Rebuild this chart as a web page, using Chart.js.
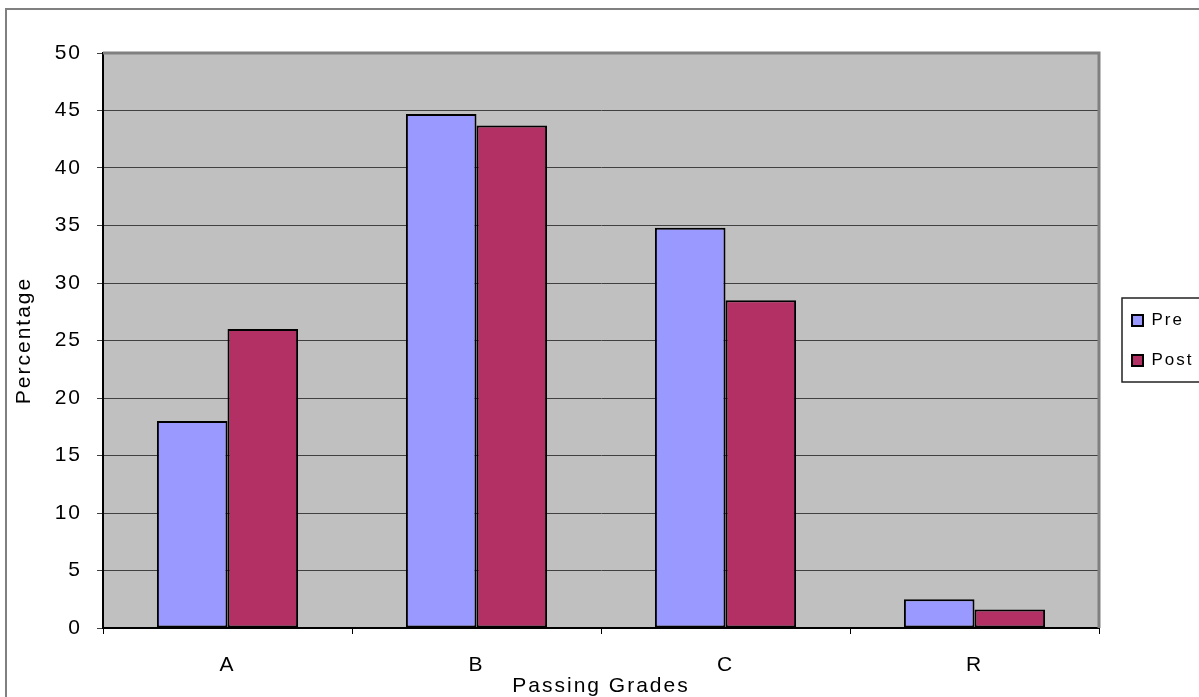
<!DOCTYPE html>
<html>
<head>
<meta charset="utf-8">
<script src="https://cdn.jsdelivr.net/npm/chart.js@4.4.1/dist/chart.umd.min.js"></script>
<style>
    body { margin: 0; background: #fff; }
    #wrap { width: 1199px; height: 697px; }
</style>
</head>
<body>
<div id="wrap"><canvas id="chart" width="1199" height="697"></canvas></div>
<script>
// Chart data
const categories = ['A', 'B', 'C', 'R'];
const preValues = [18, 44.7, 34.8, 2.5];
const postValues = [26, 43.7, 28.5, 1.6];
const yMax = 50;
const yStep = 5;

const fontFamily = '"Liberation Sans", Arial, sans-serif';

// Excel-like look: grey plot area, frames, spaced text
const excelLook = {
    id: 'excelLook',
    beforeLayout(chart) {
        chart.ctx.letterSpacing = '2px';
    },
    beforeDraw(chart) {
        const { ctx, chartArea: a } = chart;
        ctx.letterSpacing = '2px';
        ctx.save();
        ctx.fillStyle = '#c0c0c0';
        ctx.fillRect(a.left, a.top, a.right - a.left, a.bottom - a.top);
        ctx.restore();
    },
    afterDraw(chart) {
        const { ctx, chartArea: a, legend } = chart;
        ctx.save();
        ctx.strokeStyle = '#808080';
        ctx.lineWidth = 3;
        ctx.beginPath();
        ctx.moveTo(a.left, a.top);
        ctx.lineTo(a.right, a.top);
        ctx.lineTo(a.right, a.bottom);
        ctx.stroke();

        // outer chart frame (top and left only are visible)
        ctx.lineWidth = 2;
        ctx.beginPath();
        ctx.moveTo(6, chart.height);
        ctx.lineTo(6, 9);
        ctx.lineTo(chart.width, 9);
        ctx.stroke();

        // legend frame
        const boxes = legend.legendHitBoxes;
        if (boxes && boxes.length) {
            const first = boxes[0];
            const last = boxes[boxes.length - 1];
            const left = first.left - 10;
            const top = first.top - 14;
            const bottom = last.top + last.height + 13;
            ctx.strokeStyle = '#222';
            ctx.lineWidth = 1.5;
            ctx.strokeRect(left, top, chart.width + 10 - left, bottom - top);
        }
        ctx.restore();
    }
};

const ctx = document.getElementById('chart');

new Chart(ctx, {
    type: 'bar',
    data: {
        labels: categories,
        datasets: [
            {
                label: 'Pre',
                data: preValues,
                yAxisID: 'y',
                backgroundColor: '#9999ff',
                borderColor: '#000',
                borderWidth: 2,
                borderSkipped: false
            },
            {
                label: 'Post',
                data: postValues,
                yAxisID: 'y',
                backgroundColor: '#b23064',
                borderColor: '#000',
                borderWidth: 2,
                borderSkipped: false
            }
        ]
    },
    options: {
        responsive: false,
        animation: false,
        devicePixelRatio: 1,
        layout: {
            padding: { top: 53, left: 0, right: 2, bottom: 0 }
        },
        datasets: {
            bar: {
                categoryPercentage: 0.567,
                barPercentage: 1
            }
        },
        plugins: {
            legend: {
                position: 'right',
                fullSize: false,
                maxWidth: 88,
                labels: {
                    boxWidth: 11,
                    boxHeight: 11,
                    padding: 23,
                    color: '#000',
                    font: { family: fontFamily, size: 17 }
                }
            },
            tooltip: { enabled: false }
        },
        scales: {
            x: {
                afterFit: (scale) => { scale.height = 69; },
                grid: {
                    drawOnChartArea: false,
                    drawTicks: true,
                    tickLength: 6,
                    color: '#000'
                },
                border: { color: '#000', width: 2 },
                ticks: {
                    color: '#000',
                    padding: 19,
                    font: { family: fontFamily, size: 21 }
                },
                title: {
                    display: true,
                    text: 'Passing Grades',
                    color: '#000',
                    padding: { top: 0, bottom: 0 },
                    font: { family: fontFamily, size: 21, lineHeight: 1 }
                }
            },
            y: {
                min: 0,
                max: yMax,
                afterFit: (scale) => { scale.width = 103; },
                ticks: {
                    stepSize: yStep,
                    color: '#000',
                    padding: 15,
                    font: { family: fontFamily, size: 21 }
                },
                grid: {
                    color: '#404040',
                    lineWidth: 1,
                    tickLength: 6
                },
                border: { color: '#000', width: 2 },
                title: {
                    display: true,
                    text: 'Percentage',
                    color: '#000',
                    padding: { top: 13.5, bottom: 0 },
                    font: { family: fontFamily, size: 21, lineHeight: 1 }
                }
            },
            // empty spacer between the plot area and the legend
            gap: {
                type: 'linear',
                position: 'right',
                display: true,
                afterFit: (scale) => { scale.width = 10; },
                grid: { display: false },
                border: { display: false },
                ticks: { display: false }
            }
        }
    },
    plugins: [excelLook]
});
</script>
</body>
</html>
